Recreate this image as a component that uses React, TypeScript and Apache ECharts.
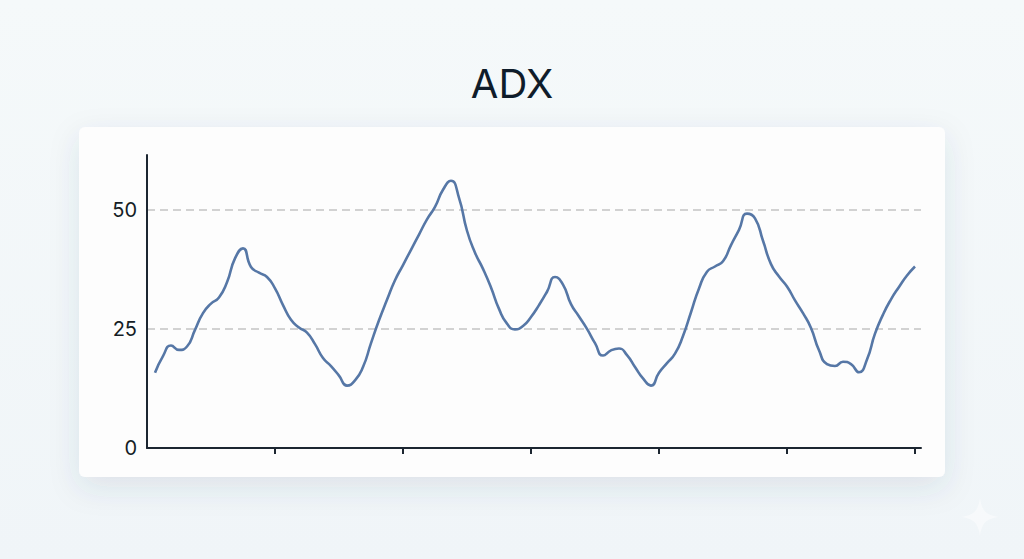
import React, { useEffect, useRef } from "react";
import * as echarts from "echarts";

const TITLE = "ADX";
// ADX readings, one per period (periods 1..96)
const adx = [
  15.8, 19.3, 21.5, 20.6, 21.3, 24.8, 28.3, 30.3, 31.6, 34.8,
  39.8, 41.9, 38.0, 36.8, 35.9, 33.5, 30.0, 26.9, 25.3, 24.2,
  21.8, 18.9, 17.2, 15.2, 13.1, 14.2, 17.0, 22.0, 26.8, 31.1,
  35.2, 38.4, 41.6, 44.8, 48.0, 50.6, 54.2, 56.1, 52.5, 45.6,
  41.0, 37.6, 33.7, 29.2, 26.1, 24.9, 25.6, 27.5, 30.0, 32.8,
  35.9, 34.3, 30.2, 27.6, 25.0, 22.0, 19.4, 20.5, 20.9, 19.5,
  17.0, 14.6, 13.1, 15.8, 17.8, 19.8, 23.5, 28.5, 33.5, 37.0,
  38.1, 39.2, 42.6, 45.8, 49.2, 48.2, 43.5, 38.6, 36.0, 33.9,
  31.0, 28.3, 25.2, 20.5, 17.6, 17.2, 18.1, 17.6, 15.9, 18.6,
  24.0, 28.0, 31.2, 33.8, 36.2, 38.1,
];
const periods = adx.map((_, i) => i + 1);
const xTicks = [16, 32, 48, 64, 80, 96];
const yInterval = 25;
const yMax = 61.5;
const xMax = 96.75;

export default function App() {
  const ref = useRef<HTMLDivElement>(null);
  useEffect(() => {
    if (!ref.current) return;
    echarts.graphic.registerShape(
      "sparkle",
      echarts.graphic.extendPath(
        "M0,-16 C1.5,-5 5,-1.5 16,0 C5,1.5 1.5,5 0,16 C-1.5,5 -5,1.5 -16,0 C-5,-1.5 -1.5,-5 0,-16 Z",
        {}
      )
    );
    const chart = echarts.init(ref.current, null, { renderer: "svg" });
    chart.setOption({
      animation: false,
      backgroundColor: "transparent",
      title: {
        text: TITLE,
        left: "center",
        top: 58,
        textStyle: {
          fontFamily: "Inter",
          fontSize: 40,
          fontWeight: 400,
          color: "#0f1c2a",
        },
      },
      graphic: [
        {
          type: "rect",
          z: -10,
          silent: true,
          shape: { x: 79, y: 127, width: 866, height: 350, r: 6 },
          style: {
            fill: "#fdfdfd",
            shadowBlur: 30,
            shadowOffsetY: 10,
            shadowColor: "rgba(40,70,100,0.11)",
          },
        },
        {
          type: "sparkle",
          z: -9,
          silent: true,
          x: 980,
          y: 517,
          scaleX: 1.2,
          scaleY: 1.2,
          style: { fill: "rgba(255,255,255,0.45)" },
        },
      ],
      grid: { left: 147, right: 103, top: 155, bottom: 111, containLabel: false },
      xAxis: {
        type: "value",
        min: 0,
        max: xMax,
        axisLine: { show: true, lineStyle: { color: "#1c2631", width: 2 } },
        axisTick: {
          show: true,
          customValues: xTicks,
          length: 6,
          lineStyle: { color: "#1c2631", width: 2 },
        },
        axisLabel: { show: false },
        splitLine: { show: false },
      },
      yAxis: {
        type: "value",
        min: 0,
        max: yMax,
        interval: yInterval,
        axisLine: { show: true, lineStyle: { color: "#1c2631", width: 2 } },
        axisTick: { show: false },
        axisLabel: {
          showMaxLabel: false,
          fontFamily: "Inter",
          fontSize: 20,
          color: "#151d26",
          margin: 10,
        },
        splitLine: {
          show: true,
          showMinLine: false,
          showMaxLine: false,
          lineStyle: { color: "#c4c4c4", width: 1.5, type: [8, 5] },
        },
      },
      series: [
        {
          type: "line",
          data: periods.map((p, i) => [p, adx[i]]),
          smooth: 0.55,
          showSymbol: false,
          lineStyle: { color: "#5677a6", width: 2.6 },
          z: 3,
        },
      ],
    });
    return () => chart.dispose();
  }, []);
  return (
    <div
      style={{
        position: "fixed",
        left: 0,
        top: 0,
        width: 1024,
        height: 559,
        background: "linear-gradient(180deg, #f5f9fa 0%, #f0f5f8 100%)",
      }}
    >
      <div ref={ref} style={{ width: 1024, height: 559 }} />
    </div>
  );
}
